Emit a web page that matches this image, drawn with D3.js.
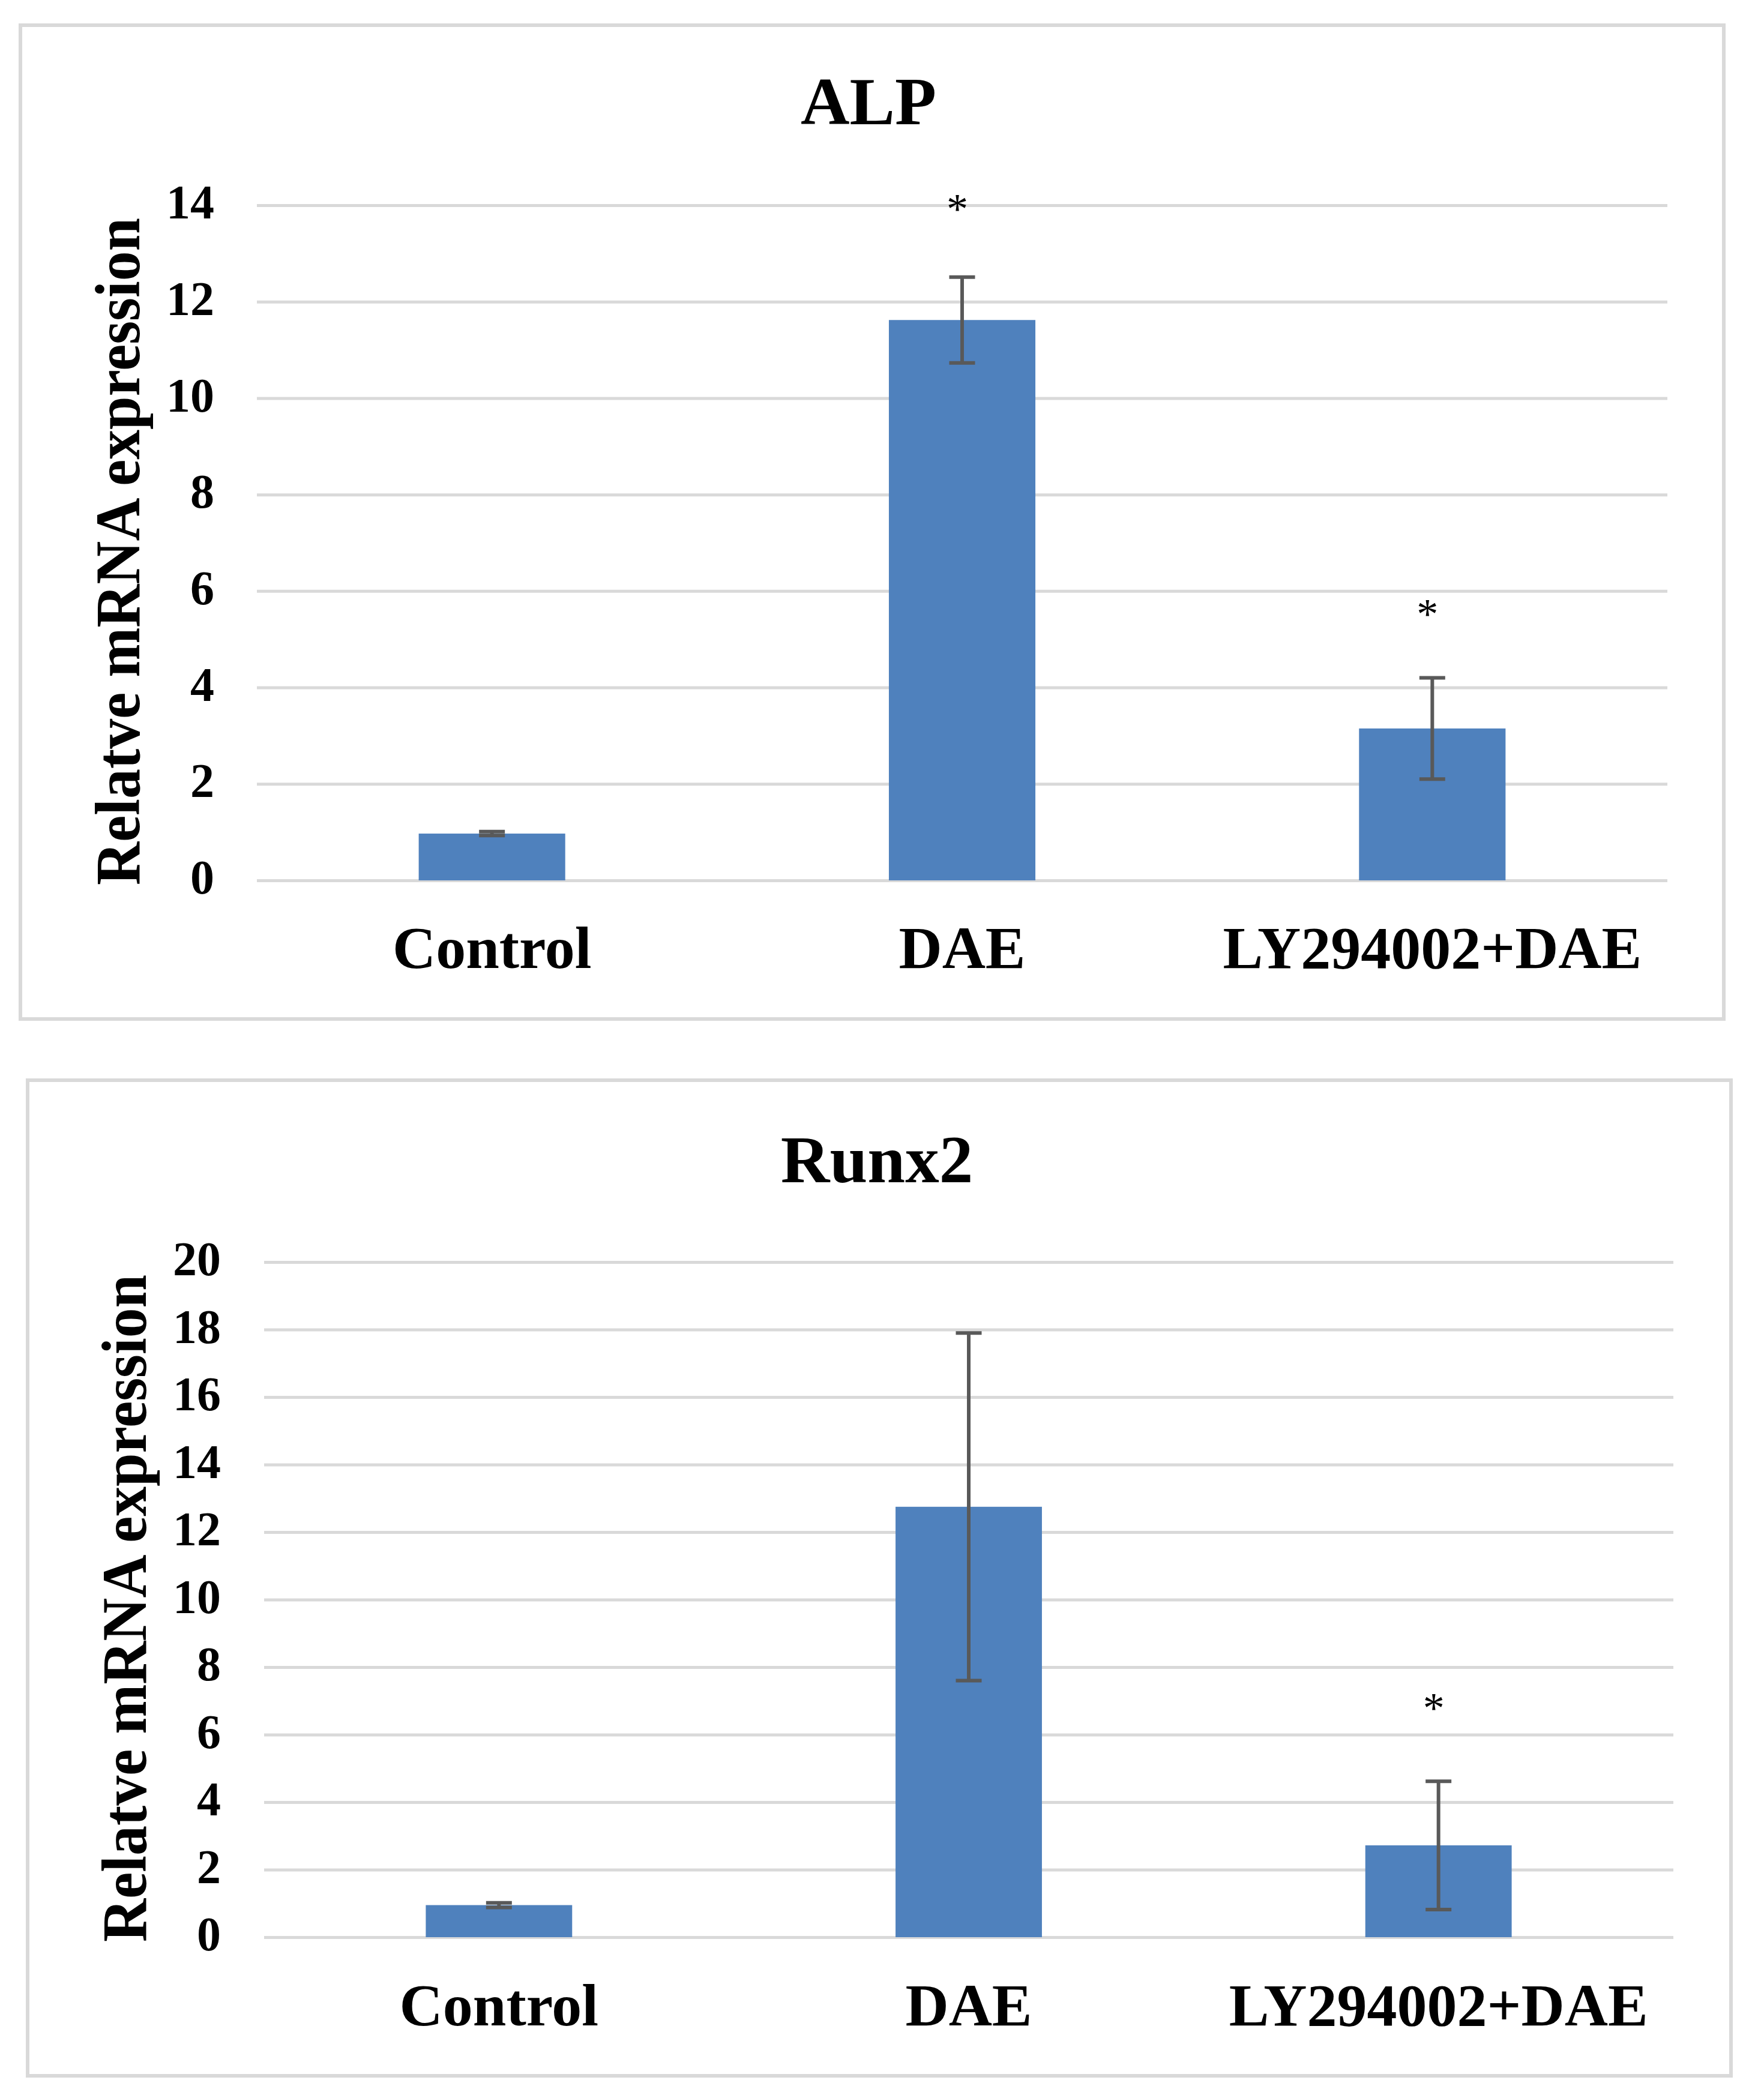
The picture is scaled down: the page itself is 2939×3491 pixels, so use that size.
<!DOCTYPE html>
<html>
<head>
<meta charset="utf-8">
<script src="https://cdn.jsdelivr.net/npm/d3@7"></script>
<style>
  html, body { margin: 0; padding: 0; background: #ffffff; }
  svg { display: block; }
  text { font-family: "Liberation Serif", "Times New Roman", serif; font-weight: bold; fill: #000; }
</style>
</head>
<body>
<svg id="chart" width="2939" height="3491"></svg>
<script>
// ---------------- data ----------------
const categories = ["Control", "DAE", "LY294002+DAE"];

const alpTitle = "ALP";
const alpValues = [0.97, 11.62, 3.15];
const alpErrors = [0.04, 0.89, 1.05];
const alpTicks = [0, 2, 4, 6, 8, 10, 12, 14];
const alpStars = [null, 14.0, 5.6];      // y-value where "*" is placed

const runx2Title = "Runx2";
const runx2Values = [0.95, 12.75, 2.72];
const runx2Errors = [0.07, 5.15, 1.9];
const runx2Ticks = [0, 2, 4, 6, 8, 10, 12, 14, 16, 18, 20];
const runx2Stars = [null, null, 6.9];

const yTitle = "Relatve mRNA expression";

// ---------------- layout ----------------
const panels = [
  { title: alpTitle, values: alpValues, errors: alpErrors, ticks: alpTicks, stars: alpStars,
    frame: { x: 34, y: 42, w: 2838, h: 1656 },
    xRange: [428, 2778], yRange: [1467, 342],
    titleX: 1447, titleY: 207, xLabelY: 1613, yTitleX: 232, yTitleY: 919, tickPad: 71 },
  { title: runx2Title, values: runx2Values, errors: runx2Errors, ticks: runx2Ticks, stars: runx2Stars,
    frame: { x: 46, y: 1800, w: 2838, h: 1659 },
    xRange: [440, 2788], yRange: [3228, 2103],
    titleX: 1461, titleY: 1970, xLabelY: 3375, yTitleX: 243, yTitleY: 2680, tickPad: 72 }
];

const svg = d3.select("#chart");
const barColor = "#4f81bd";
const gridColor = "#d9d9d9";
const errColor = "#595959";
const barFrac = 0.3116;

panels.forEach(p => {
  const g = svg.append("g");

  // frame
  g.append("rect")
    .attr("x", p.frame.x).attr("y", p.frame.y)
    .attr("width", p.frame.w).attr("height", p.frame.h)
    .attr("fill", "#fff").attr("stroke", gridColor).attr("stroke-width", 6);

  const x = d3.scaleBand().domain(categories).range(p.xRange).padding(0);
  const y = d3.scaleLinear().domain([p.ticks[0], p.ticks[p.ticks.length - 1]]).range(p.yRange);
  const W = p.xRange[1] - p.xRange[0];

  // y axis with gridlines
  const ya = g.append("g")
    .attr("transform", `translate(${p.xRange[0]},0)`)
    .call(d3.axisLeft(y).tickValues(p.ticks).tickSize(-W).tickPadding(p.tickPad).tickFormat(d3.format("d")));
  ya.select(".domain").remove();
  ya.selectAll(".tick line").attr("stroke", gridColor).attr("stroke-width", 5);
  ya.selectAll(".tick text")
    .attr("dy", "0.27em")
    .style("font-family", '"Liberation Serif", "Times New Roman", serif')
    .style("font-weight", "bold")
    .style("font-size", "80px")
    .attr("fill", "#000");

  // bars
  const bw = x.bandwidth() * barFrac;
  g.selectAll(".bar").data(categories).enter().append("rect")
    .attr("x", d => x(d) + x.bandwidth() / 2 - bw / 2)
    .attr("y", (d, i) => y(p.values[i]))
    .attr("width", bw)
    .attr("height", (d, i) => y(0) - y(p.values[i]))
    .attr("fill", barColor);

  // error bars
  const capW = 43;
  categories.forEach((c, i) => {
    const cx = x(c) + x.bandwidth() / 2;
    const hi = y(p.values[i] + p.errors[i]);
    const lo = y(Math.max(0, p.values[i] - p.errors[i]));
    const eg = g.append("g").attr("stroke", errColor).attr("stroke-width", 6);
    eg.append("line").attr("x1", cx).attr("x2", cx).attr("y1", hi).attr("y2", lo);
    eg.append("line").attr("x1", cx - capW / 2).attr("x2", cx + capW / 2).attr("y1", hi).attr("y2", hi);
    eg.append("line").attr("x1", cx - capW / 2).attr("x2", cx + capW / 2).attr("y1", lo).attr("y2", lo);
  });

  // significance stars
  categories.forEach((c, i) => {
    if (p.stars[i] == null) return;
    const cx = x(c) + x.bandwidth() / 2 - 8;
    g.append("text")
      .attr("x", cx).attr("y", y(p.stars[i]))
      .attr("dy", "0.42em")
      .attr("text-anchor", "middle")
      .style("font-size", "72px")
      .style("font-weight", "normal")
      .attr("fill", "#333")
      .text("*");
  });

  // x axis labels
  const xa = g.append("g")
    .attr("transform", `translate(0,${p.xLabelY})`)
    .call(d3.axisBottom(x).tickSize(0).tickPadding(0));
  xa.select(".domain").remove();
  xa.selectAll(".tick text")
    .attr("y", 0).attr("dy", 0)
    .style("font-family", '"Liberation Serif", "Times New Roman", serif')
    .style("font-weight", "bold")
    .style("font-size", "100px")
    .attr("fill", "#000");

  // title
  g.append("text")
    .attr("x", p.titleX).attr("y", p.titleY)
    .attr("text-anchor", "middle")
    .style("font-size", "113px")
    .text(p.title);

  // y title
  g.append("text")
    .attr("transform", `translate(${p.yTitleX},${p.yTitleY}) rotate(-90)`)
    .attr("text-anchor", "middle")
    .attr("textLength", 1112)
    .attr("lengthAdjust", "spacingAndGlyphs")
    .style("font-size", "106px")
    .text(yTitle);
});
</script>
</body>
</html>
